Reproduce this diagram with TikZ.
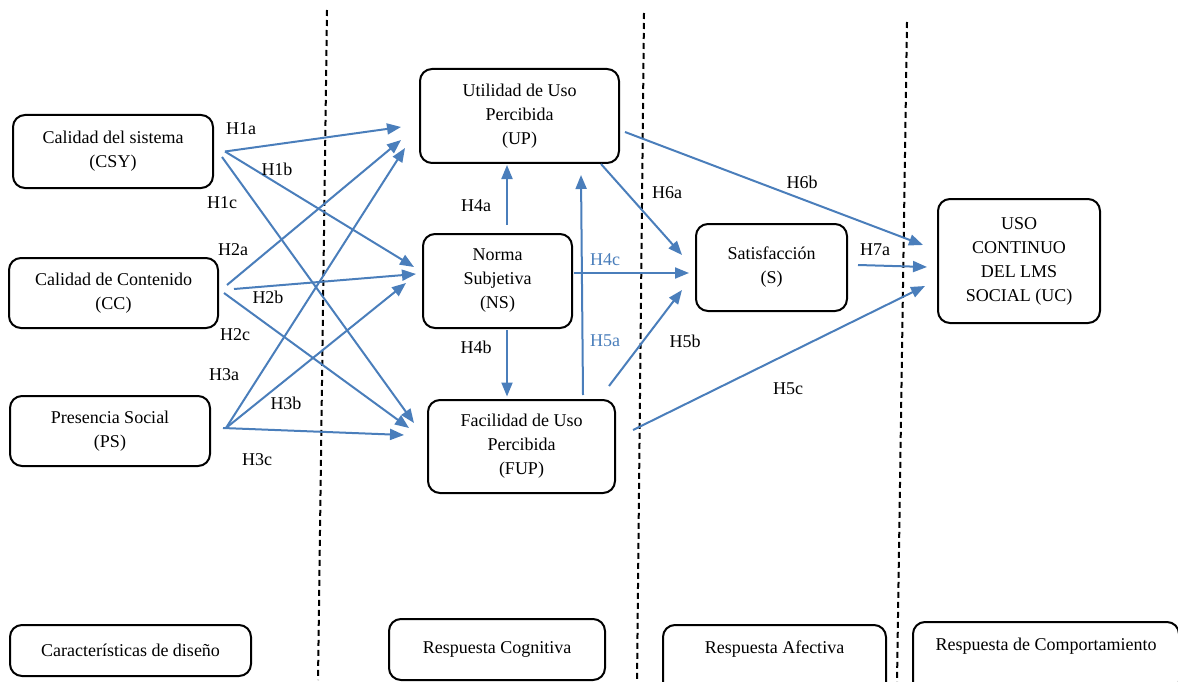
\documentclass[tikz,border=0pt]{standalone}
\usepackage{fontspec}
\setmainfont{Liberation Serif}
\usetikzlibrary{arrows.meta}
\definecolor{hblue}{RGB}{74,126,187}
\tikzset{
  box/.style={draw, line width=2pt, rounded corners=12pt, align=center, inner sep=3pt,
    font=\fontsize{18}{24}\selectfont},
  hyp/.style={draw=hblue, line width=2pt, -{Triangle[length=14pt,width=11pt]}},
  hlab/.style={font=\fontsize{18}{20}\selectfont},
  phase/.style={line width=2pt, dash pattern=on 6pt off 4pt},
}

\begin{document}
\begin{tikzpicture}[x=1pt, y=-1pt]
  \useasboundingbox (0,0) rectangle (1178,682);
  \draw [phase] (327,10) -- (318,680);
  \draw [phase] (644,13) -- (637,682);
  \draw [phase] (907,22) -- (897,682);

  \node [box, minimum width=200, minimum height=73] at (113,151.5) (csy) {Calidad del sistema\\(CSY)};
  \node [box, minimum width=209, minimum height=70] at (113.5,293) (cc) {Calidad de Contenido\\(CC)};
  \node [box, minimum width=200, minimum height=70] at (110,431) (ps) {Presencia Social\\(PS)};
  \node [box, minimum width=199, minimum height=94] at (519.5,116) (up) {Utilidad de Uso\\Percibida\\(UP)};
  \node [box, minimum width=149, minimum height=94] at (497.5,281) (ns) {Norma\\Subjetiva\\(NS)};
  \node [box, minimum width=187, minimum height=93] at (521.5,446.5) (fup) {Facilidad de Uso\\Percibida\\(FUP)};
  \node [box, minimum width=151, minimum height=87] at (771.5,267.5) (sat) {Satisfacción\\(S)};
  \node [box, minimum width=162, minimum height=124] at (1019,261) (uc) {USO\\CONTINUO\\DEL LMS\\SOCIAL (UC)};

  \node [box, minimum width=241, minimum height=51] at (130.5,650.5) (dis) {Características de diseño};
  \node [box, minimum width=216, minimum height=61] at (497,649.5) (cog) {Respuesta Cognitiva};
  \node [box, minimum width=223, text height=25pt, text depth=40pt, anchor=north] at (774.5,624) (afe) {Respuesta Afectiva};
  \node [box, minimum width=266, text height=25pt, text depth=40pt, anchor=north] at (1046,621) (com) {Respuesta de Comportamiento};

  \draw [hyp] ([shift={(11,0)}]csy.east) -- ([shift={(-18,11)}]up.west);
  \draw [hyp] ([shift={(11,0)}]csy.east) -- ([shift={(-8,-14)}]ns.west);
  \draw [hyp] ([shift={(8,5.5)}]csy.east) -- ([shift={(-13,-23.5)}]fup.west);
  \draw [hyp] ([shift={(8,-8)}]cc.east) -- ([shift={(-18,24)}]up.west);
  \draw [hyp] ([shift={(15,-4)}]cc.east) -- ([shift={(-6,-7)}]ns.west);
  \draw [hyp] ([shift={(5,0)}]cc.east) -- ([shift={(-18,-18.5)}]fup.west);
  \draw [hyp] ([shift={(15,-3)}]ps.east) -- ([shift={(-14,32)}]up.west);
  \draw [hyp] ([shift={(15,-3)}]ps.east) -- ([shift={(-16,2)}]ns.west);
  \draw [hyp] ([shift={(12,-3)}]ps.east) -- ([shift={(-23,-11.5)}]fup.west);
  \draw [hyp] ([shift={(9.5,-8)}]ns.north) -- ([shift={(-12.5,1)}]up.south);
  \draw [hyp] ([shift={(9.5,1)}]ns.south) -- ([shift={(-14.5,-2.5)}]fup.north);
  \draw [hyp] ([shift={(1,-8)}]ns.east) -- ([shift={(-6,5.5)}]sat.west);
  \draw [hyp] ([shift={(61.5,-4)}]fup.north) -- ([shift={(61.5,11)}]up.south);
  \draw [hyp] ([shift={(-7,-60.5)}]fup.east) -- ([shift={(-13,22.5)}]sat.west);
  \draw [hyp] ([shift={(17,-16.5)}]fup.east) -- ([shift={(-12,25)}]uc.west);
  \draw [hyp] ([shift={(81.5,0)}]up.south) -- ([shift={(-13,-12.5)}]sat.west);
  \draw [hyp] ([shift={(5,16)}]up.east) -- ([shift={(-14,-16)}]uc.west);
  \draw [hyp] ([shift={(10,-2.5)}]sat.east) -- ([shift={(-10,6)}]uc.west);

  \node [hlab] at (241,129) (h1a) {H1a};
  \node [hlab] at (277,169) (h1b) {H1b};
  \node [hlab] at (222,203) (h1c) {H1c};
  \node [hlab] at (233,250) (h2a) {H2a};
  \node [hlab] at (268,297) (h2b) {H2b};
  \node [hlab] at (235,335) (h2c) {H2c};
  \node [hlab] at (224,375) (h3a) {H3a};
  \node [hlab] at (286,403) (h3b) {H3b};
  \node [hlab] at (257,460) (h3c) {H3c};
  \node [hlab] at (476,206) (h4a) {H4a};
  \node [hlab] at (476,347) (h4b) {H4b};
  \node [hlab, text=hblue] at (605,260) (h4c) {H4c};
  \node [hlab, text=hblue] at (605,341) (h5a) {H5a};
  \node [hlab] at (685,341) (h5b) {H5b};
  \node [hlab] at (788,389) (h5c) {H5c};
  \node [hlab] at (667,193) (h6a) {H6a};
  \node [hlab] at (802,182) (h6b) {H6b};
  \node [hlab] at (875,250) (h7a) {H7a};
\end{tikzpicture}
\end{document}
